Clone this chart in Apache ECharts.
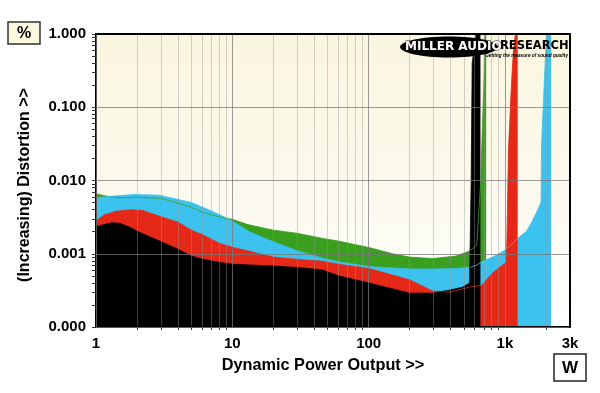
<!DOCTYPE html>
<html><head><meta charset="utf-8">
<script src="https://cdn.jsdelivr.net/npm/echarts@6/dist/echarts.min.js"></script>
<style>html,body{margin:0;padding:0;background:#fff}#c{width:600px;height:393px}</style>
</head><body><div id="c"></div>
<script>
// ---- data (power in W, distortion in %) ----
const greenW   = [1,1.25,1.5,2,3,4,5,6,8,10,13,20,30,46,60,100,150,200,294,437,550,620,665,680,700,712,728];
const greenPct = [0.0066,0.0060,0.0058,0.0059,0.0057,0.0049,0.0043,0.0037,0.0032,0.00295,0.0025,0.0021,0.0019,0.00162,0.00149,0.00122,0.0010,0.0009,0.00086,0.00093,0.00109,0.0013,0.01,0.04,0.2,1.0,1.3];

const cyanW   = [1,1.3,1.9,2.9,4,5,6.1,8.1,10,13.3,20,30,46,60,100,200,300,437,550,620,673,813,1000,1100,1241,1430,1555,1740,1841,1855,1946,2015,2181];
const cyanPct = [0.0058,0.0061,0.00645,0.0063,0.0055,0.0050,0.0043,0.0034,0.0028,0.0020,0.00146,0.0011,0.00087,0.00078,0.00067,0.00062,0.00062,0.00063,0.00065,0.0007,0.00078,0.0009,0.00112,0.0013,0.00163,0.0020,0.0026,0.00396,0.0051,0.03,0.235,1.0,1.3];

const redW   = [1,1.15,1.4,1.8,2.2,3,4,5,6.1,8.1,10,20,30,46,60,100,200,294,396,550,673,813,960,1026,1061,1120,1154,1200,1240];
const redPct = [0.0028,0.0034,0.0038,0.0040,0.0039,0.0032,0.0027,0.0021,0.0018,0.00138,0.00123,0.0009,0.00084,0.00079,0.00072,0.00063,0.00044,0.00031,0.00030,0.00035,0.00037,0.00055,0.0007,0.00076,0.026,0.235,0.6,1.1,1.3];

const blackW   = [1,1.3,1.5,1.77,2.04,3,4,5,6.1,8.1,10,20,30,46,60,100,200,294,396,490,550,565,575,615,661];
const blackPct = [0.00235,0.00265,0.0026,0.0023,0.0020,0.00146,0.00115,0.00093,0.00084,0.00076,0.00072,0.00068,0.00065,0.0006,0.0005,0.0004,0.00029,0.00029,0.00032,0.00035,0.0004,0.01,0.4,1.0,1.3];

const xTickLabels = [1,10,100,1000,3000];
const yTickLabels = [0.0001,0.001,0.01,0.1,1];

// ---- helpers ----
function pairs(xs, ys){ return xs.map((x,i)=>[x, ys[i]]); }
function minors(lo, hi){
  const out=[];
  for(let d=lo; d<hi; d*=10){ for(let k=2;k<=9;k++){ const v=+(d*k).toPrecision(6); if(v<hi) out.push(v);} }
  return out;
}
const xMinor = minors(1, 3000);
const yMinor = minors(0.0001, 1);
const FONT = 'Liberation Sans';

const chart = echarts.init(document.getElementById('c'), null, {renderer:'canvas'});

function areaSeries(name, xs, ys, color){
  return {
    name, type:'line', data: pairs(xs, ys), showSymbol:false, symbol:'none',
    smooth:false, clip:true, xAxisIndex:0, yAxisIndex:0,
    lineStyle:{width:0.8, color:color},
    areaStyle:{color:color, opacity:1},
    emphasis:{disabled:true}, silent:true, animation:false
  };
}

const option = {
  animation:false,
  backgroundColor:'#ffffff',
  textStyle:{fontFamily:FONT},
  grid:{
    left:96, right:30, top:34, bottom:66, show:true, borderWidth:0,
    backgroundColor:{type:'linear',x:0,y:0,x2:0,y2:1,colorStops:[
      {offset:0,color:'#FAF6DF'},{offset:0.5,color:'#FBF9EC'},{offset:1,color:'#FFFFFF'}]}
  },
  xAxis:[
    {
      type:'log', logBase:10, min:1, max:3000, position:'bottom', z:10,
      axisLine:{show:true, onZero:false, lineStyle:{color:'#000', width:2}},
      axisTick:{show:true, customValues:xMinor, length:3, lineStyle:{color:'#333', width:1}},
      minorTick:{show:false},
      axisLabel:{show:true, customValues:xTickLabels, margin:9, fontSize:15, fontWeight:'bold', color:'#000', fontFamily:FONT,
        formatter:(v)=> v>=1000 ? (Math.round(v/1000))+'k' : String(Math.round(v))},
      splitLine:{show:true, lineStyle:{color:'rgba(150,150,150,0.42)', width:1}}
    },
    {
      type:'log', logBase:10, min:1, max:3000, position:'top', z:11,
      axisLine:{show:true, onZero:false, lineStyle:{color:'#000', width:2}},
      axisTick:{show:false}, axisLabel:{show:false},
      splitLine:{show:true, lineStyle:{color:'rgba(120,120,120,0.75)', width:1}}
    }
  ],
  yAxis:[
    {
      type:'log', logBase:10, min:0.0001, max:1, position:'left', z:10,
      axisLine:{show:true, onZero:false, lineStyle:{color:'#000', width:2}},
      axisTick:{show:true, customValues:yMinor.concat(yTickLabels), length:4, lineStyle:{color:'#333', width:1}},
      axisLabel:{show:true, customValues:yTickLabels, margin:10, fontSize:15, fontWeight:'bold', color:'#000', fontFamily:FONT,
        formatter:(v)=> Number(v).toFixed(3)},
      splitLine:{show:false}
    },
    {
      type:'log', logBase:10, min:0.0001, max:1, position:'right', z:11,
      axisLine:{show:true, onZero:false, lineStyle:{color:'#000', width:2}},
      axisTick:{show:false}, axisLabel:{show:false},
      splitLine:{show:true, lineStyle:{color:'rgba(120,120,120,0.75)', width:1}}
    }
  ],
  series:[
    areaSeries('green', greenW, greenPct, '#3A9E1F'),
    areaSeries('cyan',  cyanW,  cyanPct,  '#3BC2EE'),
    areaSeries('red',   redW,   redPct,   '#E62818'),
    areaSeries('black', blackW, blackPct, '#000000')
  ],
  graphic:[
    {type:'rect', z:100, shape:{x:8,y:22,width:32,height:22}, style:{fill:'#FBF8DE', stroke:'#333', lineWidth:1.5}},
    {type:'text', z:101, x:24, y:33.5, style:{text:'%', fontSize:16, fontWeight:'bold', fontFamily:FONT, fill:'#000', align:'center', verticalAlign:'middle'}},
    {type:'rect', z:100, shape:{x:554,y:354,width:32,height:27}, style:{fill:'#FFFFFF', stroke:'#222', lineWidth:1.5}},
    {type:'text', z:101, x:570, y:368, style:{text:'W', fontSize:17, fontWeight:'bold', fontFamily:FONT, fill:'#000', align:'center', verticalAlign:'middle'}},
    {type:'text', z:101, x:323, y:366, style:{text:'Dynamic Power Output >>', fontSize:16.3, fontWeight:'bold', fontFamily:FONT, fill:'#000', align:'center', verticalAlign:'middle'}},
    {type:'text', z:101, x:25, y:185, rotation:Math.PI/2, style:{text:'(Increasing) Distortion >>', fontSize:16, fontWeight:'bold', fontFamily:FONT, fill:'#000', align:'center', verticalAlign:'middle'}},
    // logo
    {type:'ellipse', z:100, shape:{cx:449, cy:47, rx:49, ry:10.5}, style:{fill:'#000'}},
    {type:'text', z:101, x:405, y:46.5, style:{text:'MILLER AUDIO', fontSize:12, fontWeight:'bold', fontFamily:'DejaVu Sans', fill:'#fff', stroke:'#000', lineWidth:0.8, align:'left', verticalAlign:'middle'}},
    {type:'text', z:101, x:500, y:46.5, style:{text:'RESEARCH', fontSize:11.5, fontWeight:'bold', fontFamily:'DejaVu Sans', fill:'#000', align:'left', verticalAlign:'middle'}},
    {type:'text', z:101, x:568, y:55.5, style:{text:'Getting the measure of sound quality', fontSize:4.7, fontWeight:'bold', fontStyle:'italic', fontFamily:FONT, fill:'#000', align:'right', verticalAlign:'middle'}}
  ]
};
chart.setOption(option);
</script></body></html>
